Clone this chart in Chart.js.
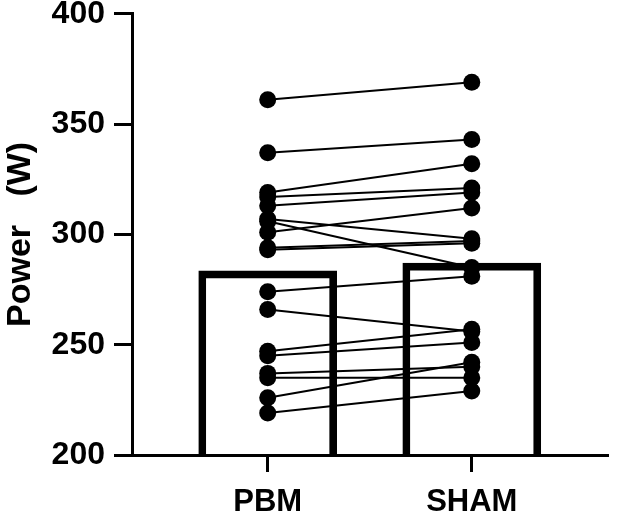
<!DOCTYPE html>
<html>
<head>
<meta charset="utf-8">
<script src="https://cdn.jsdelivr.net/npm/chart.js@4"></script>
<style>
  html, body { margin: 0; padding: 0; background: #fff; }
  #wrap { width: 617px; height: 515px; }
</style>
</head>
<body>
<div id="wrap"><canvas id="powerChart" width="617" height="515"></canvas></div>
<script>
const groups = ['PBM', 'SHAM'];
const barMeans = [283.5, 287];
const pbmPower = [361, 337, 319, 317, 313, 307, 306, 301, 294, 293, 274, 266, 247, 245, 237, 235, 226, 219];
const shamPower = [369, 343, 332, 321, 319, 298, 285, 312, 297, 296, 281, 256, 257, 251, 240, 235, 242, 229];
const yTicks = [200, 250, 300, 350, 400];

const fontFamily = '"Liberation Sans", Arial, sans-serif';

function initGraphics() {
    const ctx = document.getElementById('powerChart').getContext('2d');

    const pairLines = pbmPower.map((v, i) => ({
        type: 'line',
        data: [{ x: 1, y: v }, { x: 2, y: shamPower[i] }],
        borderColor: '#000',
        borderWidth: 2,
        pointRadius: 8.5,
        pointBackgroundColor: '#000',
        pointBorderWidth: 0,
        order: 1
    }));

    new Chart(ctx, {
        type: 'bar',
        data: {
            datasets: [{
                type: 'bar',
                data: barMeans.map((m, i) => ({ x: i + 1, y: m })),
                base: 200,
                backgroundColor: 'rgba(255,255,255,0)',
                borderColor: '#000',
                borderWidth: 7,
                borderSkipped: 'start',
                barThickness: 138,
                order: 2
            }, ...pairLines]
        },
        options: {
            responsive: false,
            animation: false,
            events: [],
            layout: { padding: { top: 0, right: 2, left: 0, bottom: 0 } },
            plugins: {
                legend: { display: false },
                tooltip: { enabled: false }
            },
            scales: {
                x: {
                    type: 'linear',
                    offset: false,
                    min: 0.335,
                    max: 2.67,
                    afterBuildTicks: scale => { scale.ticks = [{ value: 1 }, { value: 2 }]; },
                    afterFit: scale => { scale.height = 60; },
                    ticks: {
                        color: '#000',
                        font: { family: fontFamily, size: 31, weight: 'bold' },
                        padding: 12,
                        callback: v => groups[v - 1]
                    },
                    grid: {
                        offset: false,
                        drawOnChartArea: false,
                        tickLength: 17,
                        tickWidth: 3,
                        tickColor: '#000'
                    },
                    border: { color: '#000', width: 3 }
                },
                y: {
                    min: 200,
                    max: 400,
                    afterBuildTicks: scale => { scale.ticks = yTicks.map(v => ({ value: v })); },
                    afterFit: scale => { scale.width = 132; },
                    ticks: {
                        color: '#000',
                        font: { family: fontFamily, size: 32, weight: 'bold', lineHeight: 0.3 },
                        padding: 9
                    },
                    grid: {
                        drawOnChartArea: false,
                        tickLength: 18,
                        tickWidth: 3,
                        tickColor: '#000'
                    },
                    border: { color: '#000', width: 3 },
                    title: {
                        display: true,
                        text: 'Power   (W)',
                        color: '#000',
                        font: { family: fontFamily, size: 34, weight: 'bold' },
                        padding: { top: 0, bottom: 0 }
                    }
                }
            }
        }
    });
}

initGraphics();
</script>
</body>
</html>
